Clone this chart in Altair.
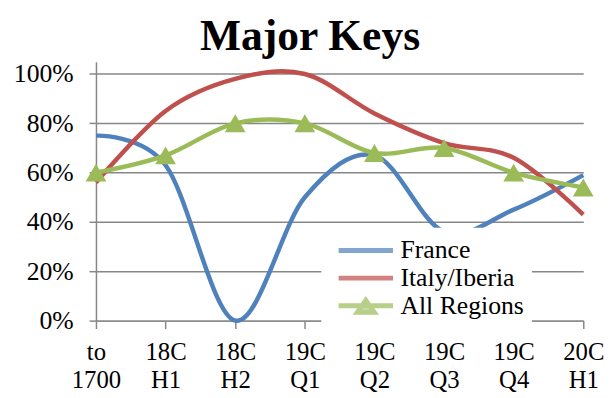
import altair as alt
import pandas as pd

categories = ["to 1700", "18C H1", "18C H2", "19C Q1", "19C Q2", "19C Q3", "19C Q4", "20C H1"]
series = ["France", "Italy/Iberia", "All Regions"]
france = [75, 63, 0, 50, 67, 36, 45, 59]
italy = [56, 85, 98, 100, 84, 72, 66, 43]
all_regions = [60, 67, 80, 80, 68, 70, 60, 54]
colors = ["#4F81BD", "#C0504D", "#9BBB59"]
y_ticks = [0, 20, 40, 60, 80, 100]

legend_paths = [
    "M-2.2,0L2.2,0",
    "M-2.2,0L2.2,0",
    "M-2.2,0L2.2,0M0,-0.44L0.68,0.52L-0.68,0.52Z",
]

rows = []
for s, vals in zip(series, [france, italy, all_regions]):
    for c, v in zip(categories, vals):
        rows.append({"period": c, "series": s, "value": v})
df = pd.DataFrame(rows)

FONT = "Liberation Serif"
GRAY = "#878787"

legend = alt.Legend(
    title="\u00a0\u00a0\u00a0\u00a0\u00a0", titleOrient="left", titlePadding=0,
    titleFont=FONT, titleFontSize=24, titleFontWeight="normal",
    orient="none", legendX=228, legendY=168,
    fillColor="white", padding=8, symbolOffset=22, labelOffset=20,
    symbolSize=625, symbolStrokeWidth=5, rowPadding=-2.5,
    labelFont=FONT, labelFontSize=26, labelColor="black", labelLimit=300,
)

x = alt.X(
    "period:O", sort=categories, scale=alt.Scale(padding=0),
    axis=alt.Axis(
        title=None, labelAngle=0, labelExpr="split(datum.label, ' ')",
        grid=False, labelFont=FONT, labelFontSize=25, labelColor="black",
        labelLineHeight=29, labelPadding=11, tickSize=8, tickColor=GRAY,
        tickWidth=1.5, domainColor=GRAY, domainWidth=1.5, labelBaseline="top",
    ),
)
y = alt.Y(
    "value:Q", scale=alt.Scale(domain=[0, 105], nice=False),
    axis=alt.Axis(
        title=None, values=y_ticks, labelExpr="datum.value + '%'",
        labelFont=FONT, labelFontSize=26, labelColor="black", labelPadding=16,
        tickSize=7, tickColor=GRAY, tickWidth=1.5, domainColor=GRAY,
        domainWidth=1.5, gridColor=GRAY, gridWidth=1.5,
    ),
)

lines = alt.Chart(df).mark_line(interpolate="cardinal", strokeWidth=4.5).encode(
    x=x, y=y,
    stroke=alt.Stroke("series:N", sort=series,
                      scale=alt.Scale(domain=series, range=colors), legend=legend),
)

legend_layer = alt.Chart(df).transform_filter("false").mark_point(filled=True).encode(
    x=x, y=y,
    fill=alt.Fill("series:N", sort=series,
                  scale=alt.Scale(domain=series, range=colors), legend=legend),
    shape=alt.Shape("series:N", sort=series,
                    scale=alt.Scale(domain=series, range=legend_paths), legend=legend),
)

triangles = alt.Chart(df).transform_filter("datum.series == 'All Regions'").mark_point(
    shape="triangle-up", filled=True, size=440, opacity=1, color="#9BBB59"
).encode(x=x, y=y)

chart = alt.layer(lines, triangles, legend_layer).properties(
    width=493, height=262,
    title=alt.TitleParams("Major Keys", font=FONT, fontSize=44, fontWeight="bold",
                          color="black", anchor="middle", dx=-30, offset=2),
    autosize=alt.AutoSizeParams(type="none"),
    padding={"left": 89, "top": 52, "right": 24, "bottom": 76},
).configure_view(strokeWidth=0)

chart.save("out.html", embed_options={"renderer": "svg", "actions": False})
